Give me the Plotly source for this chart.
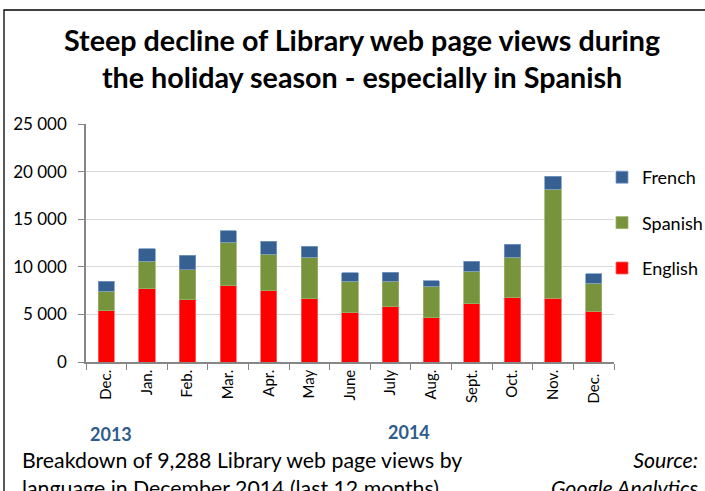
import plotly.graph_objects as go

months = ["Dec.", "Jan.", "Feb.", "Mar.", "Apr.", "May", "June", "July", "Aug.", "Sept.", "Oct.", "Nov.", "Dec. "]
english = [5400, 7720, 6560, 8030, 7510, 6630, 5190, 5780, 4630, 6100, 6800, 6700, 5340]
spanish = [2040, 2870, 3120, 4560, 3820, 4350, 3300, 2710, 3330, 3440, 4180, 11460, 2950]
french = [1050, 1300, 1510, 1190, 1330, 1160, 870, 940, 600, 1050, 1370, 1370, 998]
y_ticks = [0, 5000, 10000, 15000, 20000, 25000]

FONT = "Lato"
W, H = 705, 491
L, R, T, B = 86, 91, 124, 129
PW, PH = W - L - R, H - T - B


def px(x):
    return (x - L) / PW


def py(y):
    return (H - B - y) / PH


fig = go.Figure()
series = [("English", english, "#FF0000", "#FF6666", 3),
          ("Spanish", spanish, "#77933C", "#9BB36A", 2),
          ("French", french, "#376092", "#7A9CC6", 1)]
for name, vals, col, lc, rank in series:
    fig.add_trace(go.Bar(x=months, y=vals, name=name, legendgroup=name, legendrank=rank,
                         marker=dict(color=col, line=dict(color=lc, width=0.8))))

fig.update_layout(
    width=W, height=H, barmode="stack", bargap=0.6,
    margin=dict(l=L, r=R, t=T, b=B, autoexpand=False),
    paper_bgcolor="white", plot_bgcolor="white",
    separators=". ",
    font=dict(family=FONT, color="black"),
    showlegend=True,
    legend=dict(x=px(602), y=py(159), xanchor="left", yanchor="top",
                traceorder="grouped", tracegroupgap=19,
                font=dict(size=18, family=FONT), itemwidth=30,
                bgcolor="rgba(0,0,0,0)"),
    xaxis=dict(type="category", tickangle=-90, tickfont=dict(size=15, family=FONT),
               showline=True, linecolor="#868686", linewidth=1.5,
               ticks="outside", tickson="boundaries", ticklen=6, tickcolor="#868686",
               showgrid=False),
    yaxis=dict(range=[0, 25000], tickvals=y_ticks, tickformat=",d",
               tickfont=dict(size=17, family=FONT),
               showline=True, linecolor="#868686", linewidth=1.5,
               ticks="outside", ticklen=6, tickcolor="#868686",
               showgrid=True, gridcolor="#D9D9D9", gridwidth=1.2,
               zeroline=False, ticklabelstandoff=8),
)

annos = [
    dict(text="<b>Steep decline of Library web page views during<br>the holiday season - especially in Spanish</b>",
         x=px(362), y=py(58), xanchor="center", yanchor="middle",
         font=dict(size=28.7, family=FONT, color="black"), align="center"),
    dict(text="<b>2013</b>", x=px(111), y=py(434), xanchor="center", yanchor="middle",
         font=dict(size=18, family=FONT, color="#2E5B8C")),
    dict(text="<b>2014</b>", x=px(409), y=py(432), xanchor="center", yanchor="middle",
         font=dict(size=18, family=FONT, color="#2E5B8C")),
    dict(text="Breakdown of 9,288 Library web page views by<br>language in December 2014 (last 12 months)",
         x=px(20), y=py(445), xanchor="left", yanchor="top", align="left",
         font=dict(size=21.3, family=FONT, color="black")),
    dict(text="<i>Source:</i><br><i>Google Analytics</i>",
         x=px(701), y=py(445), xanchor="right", yanchor="top", align="right",
         font=dict(size=21.3, family=FONT, color="black")),
]
for a in annos:
    fig.add_annotation(xref="paper", yref="paper", showarrow=False, **a)

fig.add_shape(type="rect", xref="paper", yref="paper",
              x0=px(4), x1=px(710), y0=py(500), y1=py(10),
              line=dict(color="black", width=1.3), layer="below")

fig.write_html("out.html")
